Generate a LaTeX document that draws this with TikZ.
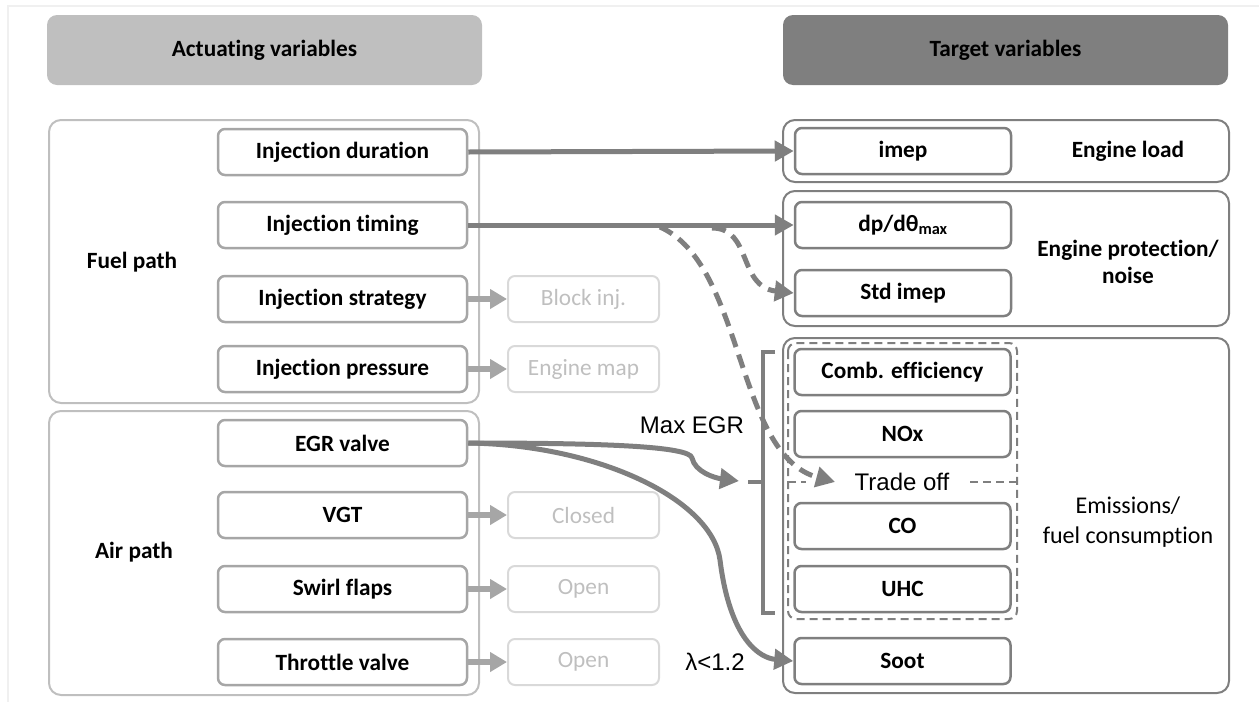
\documentclass[tikz,border=0pt]{standalone}
\usepackage{fontspec}
\setmainfont{Carlito}[Ligatures=NoCommon]
\newfontfamily\arialf{Liberation Sans}
\usetikzlibrary{arrows.meta}
\definecolor{dk}{HTML}{7F7F7F}
\definecolor{md}{HTML}{A6A6A6}
\definecolor{lt}{HTML}{BFBFBF}
\definecolor{vl}{HTML}{D9D9D9}
\newcommand{\bfs}{\fontsize{23.3}{27}\selectfont\bfseries}
\newcommand{\rgs}{\fontsize{23.3}{27}\selectfont}
\begin{document}
\begin{tikzpicture}[x=1pt,y=-1pt,
  hdr/.style={rounded corners=10pt, minimum width=435pt, minimum height=70pt, inner sep=0pt, font=\bfs},
  grp/.style={draw=lt, line width=2pt, rounded corners=12pt, inner sep=0pt},
  tgrp/.style={draw=dk, line width=2pt, rounded corners=12pt, inner sep=0pt},
  abox/.style={draw=md, line width=2.5pt, rounded corners=7pt, minimum width=249pt, minimum height=46pt, inner sep=0pt, fill=white, font=\bfs},
  obox/.style={draw=vl, line width=2pt, rounded corners=7pt, minimum width=151pt, minimum height=46pt, inner sep=0pt, text=lt, font=\rgs},
  tbox/.style={draw=dk, line width=2.5pt, rounded corners=7pt, minimum width=216pt, minimum height=46pt, inner sep=0pt, fill=white, font=\bfs},
  lbl/.style={font=\bfs, inner sep=0pt},
  rlbl/.style={font=\fontsize{24}{30}\selectfont, inner sep=0pt},
  albl/.style={font=\arialf\fontsize{24}{28}\selectfont, inner sep=0pt},
  conn/.style={draw=dk, line width=5pt, -{Triangle[length=19pt,width=20pt]}},
  dconn/.style={conn, dash pattern=on 14pt off 8pt},
  sconn/.style={draw=md, line width=6pt, -{Triangle[length=17pt,width=19pt]}},
]
\useasboundingbox (0,0) rectangle (1259,702);
\draw[black!6, line width=1.5pt] (8,702) -- (8,6) -- (1259,6);

% headers
\node[hdr, fill=lt] (hact) at (264.5,50) {Actuating variables};
\node[hdr, fill=dk, minimum width=445pt] (htar) at (1005.5,50) {Target variables};

% left groups
\node[grp, minimum width=430pt, minimum height=283pt] (fuel) at (264,261.5) {};
\node[grp, minimum width=430pt, minimum height=284pt] (air) at (264,553) {};
\node[lbl] (fuellbl) at (132,262) {Fuel path};
\node[lbl] (airlbl) at (134,552) {Air path};

% right groups
\node[tgrp, minimum width=446pt, minimum height=62pt] (eload) at (1006,151) {};
\node[tgrp, minimum width=446pt, minimum height=135pt] (eprot) at (1006,258.5) {};
\node[tgrp, minimum width=446pt, minimum height=355pt] (emis) at (1006,515.5) {};
\node[lbl] (eloadlbl) at (1128,151) {Engine load};
\node[lbl, align=center] (eprotlbl) at (1128,262) {Engine protection/\\noise};
\node[rlbl, align=center] (emislbl) at (1128,522) {Emissions/\\fuel consumption};

% dashed trade-off frame
\draw[dk, line width=2pt, dash pattern=on 8pt off 5pt, rounded corners=8pt] (788,343) rectangle (1017,619);

% actuating boxes
\node[abox] (idur) at (342.5,152) {Injection duration};
\node[abox] (itim) at (342.5,225) {Injection timing};
\node[abox] (istr) at (342.5,299) {Injection strategy};
\node[abox] (ipre) at (342.5,369) {Injection pressure};
\node[abox] (egr) at (342.5,443) {EGR valve};
\node[abox] (vgt) at (342.5,515) {VGT};
\node[abox] (swirl) at (342.5,589) {Swirl flaps};
\node[abox] (thr) at (342.5,662) {Throttle valve};

% fixed settings
\node[obox] (blk) at (583.5,299) {Block inj.};
\node[obox] (emap) at (583.5,369) {Engine map};
\node[obox] (clo) at (583.5,515) {Closed};
\node[obox] (op1) at (583.5,589) {Open};
\node[obox] (op2) at (583.5,662) {Open};

% target boxes
\node[tbox] (imep) at (903,151) {imep};
\node[tbox] (dpdt) at (903,225) {dp/dθ\textsubscript{max}};
\node[tbox] (stdimep) at (903,293) {Std imep};
\node[tbox] (comb) at (902.5,372) {Comb. efficiency};
\node[tbox] (nox) at (902.5,434) {NOx};
\node[tbox] (co) at (902.5,526) {CO};
\node[tbox] (uhc) at (902.5,589) {UHC};
\node[tbox] (soot) at (902.5,661) {Soot};

% trade off label and partial dashed line
\node[albl] (trade) at (902,482) {Trade off};
\draw[dk, line width=2pt, dash pattern=on 8pt off 5pt] (788,482) -- (806,482);
\draw[dk, line width=2pt, dash pattern=on 8pt off 5pt] (970,482) -- (1017,482);

% labels
\node[albl] (maxegr) at (692,425) {Max EGR};
\node[albl] (lam) at (715,662) {λ<1.2};

% bracket
\draw[dk, line width=4pt] (775,352) -- (763,352) -- (763,613) -- (775,613);
\draw[dk, line width=4pt] (748,482) -- (763,482);

% coordinates
\coordinate (tto) at (835,482);
\coordinate (brk) at (739,481);
\coordinate (d1) at (660,227);
\coordinate (d2) at (712,228);

% short arrows
\draw[sconn] (istr.east) -- (blk.west);
\draw[sconn] (ipre.east) -- (emap.west);
\draw[sconn] (vgt.east) -- (clo.west);
\draw[sconn] (swirl.east) -- (op1.west);
\draw[sconn] (thr.east) -- (op2.west);

% main arrows
\draw[conn] (idur.east) -- (imep.west);
\draw[conn] (itim.east) -- (dpdt.west);
\draw[dconn] (d1) .. controls (745,265) and (735,455) .. (tto);
\draw[dconn] (d2) .. controls (752,228) and (738,287) .. (stdimep.west);
\draw[conn] (egr.east) .. controls (600,443) and (690,446) .. (692,458) .. controls (695,472) and (715,478) .. (brk);
\draw[conn] (egr.east) .. controls (600,445) and (712,500) .. (720,560) .. controls (730,640) and (760,658) .. (soot.west);
\end{tikzpicture}
\end{document}
